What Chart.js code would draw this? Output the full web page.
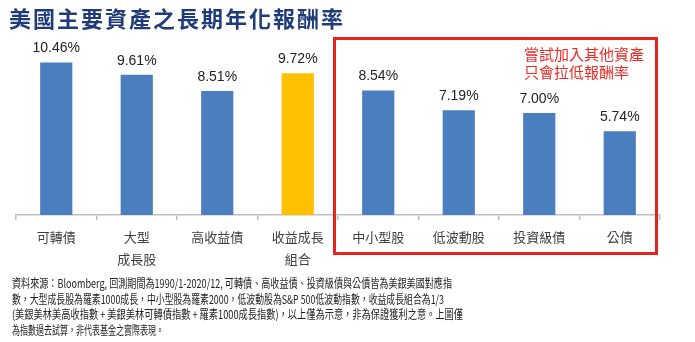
<!DOCTYPE html>
<html><head><meta charset="utf-8">
<script src="https://cdn.jsdelivr.net/npm/chart.js@4/dist/chart.umd.min.js"></script>
<style>
html,body{margin:0;padding:0;background:#fff;width:695px;height:342px;overflow:hidden;position:relative;}
#wrap{position:absolute;left:0;top:0;width:695px;height:280px;}
#title{position:absolute;left:9px;top:4px;font:bold 22px "Noto Sans CJK TC";letter-spacing:2px;color:#1f3b7a;white-space:nowrap;line-height:26px;}
#box{position:absolute;left:333px;top:37px;width:319px;height:212px;border:3px solid #e8231b;}
#note{position:absolute;left:524px;top:45px;font:15px "Noto Sans CJK TC";color:#ee2a24;line-height:18px;white-space:nowrap;}
#foot{position:absolute;left:12px;top:275px;width:680px;font:12px "Noto Sans CJK TC";color:#222;line-height:15.5px;}
#foot div{height:15.5px;white-space:nowrap;}
#foot span{display:inline-block;white-space:nowrap;transform-origin:0 0;}
</style></head>
<body>
<div id="wrap"><canvas id="c" width="695" height="280"></canvas></div>
<div id="title">美國主要資產之長期年化報酬率</div>
<div id="box"></div>
<div id="note">嘗試加入其他資產<br>只會拉低報酬率</div>
<div id="foot"></div>
<script>
const categories = ["可轉債", ["大型","成長股"], "高收益債", ["收益成長","組合"], "中小型股", "低波動股", "投資級債", "公債"];
const returns = [10.46, 9.61, 8.51, 9.72, 8.54, 7.19, 7.00, 5.74];
const barColors = ["#4a7ebf","#4a7ebf","#4a7ebf","#ffc000","#4a7ebf","#4a7ebf","#4a7ebf","#4a7ebf"];
const footLines = [
 "資料來源：Bloomberg, 回測期間為1990/1-2020/12, 可轉債、高收益債、投資級債與公債皆為美銀美國對應指",
 "數，大型成長股為羅素1000成長，中小型股為羅素2000，低波動股為S&P 500低波動指數，收益成長組合為1/3",
 "(美銀美林美高收指數 + 美銀美林可轉債指數 + 羅素1000成長指數)，以上僅為示意，非為保證獲利之意。上圖僅",
 "為指數過去試算，非代表基金之實際表現。"
];
const footWidths = [440, 432, 451, 152];

const foot = document.getElementById('foot');
footLines.forEach((t,i)=>{const d=document.createElement('div');const s=document.createElement('span');
  s.textContent=t;d.appendChild(s);foot.appendChild(d);
  const w=s.getBoundingClientRect().width; s.style.transform='scaleX('+(footWidths[i]/w)+')';});

const valueLabels = {
  id:'valueLabels',
  afterDatasetsDraw(chart){
    const ctx=chart.ctx; const meta=chart.getDatasetMeta(0);
    ctx.save(); ctx.font='14px "Liberation Sans", Arial'; ctx.fillStyle='#222';
    ctx.textAlign='center'; ctx.textBaseline='bottom';
    meta.data.forEach((bar,i)=>{ ctx.fillText(returns[i].toFixed(2)+'%', bar.x, bar.y-7); });
    ctx.restore();
  }
};

new Chart(document.getElementById('c'), {
  type:'bar',
  data:{labels:categories, datasets:[{data:returns, backgroundColor:barColors, categoryPercentage:0.8, barPercentage:0.5}]},
  options:{
    responsive:false, animation:false, devicePixelRatio:1,
    layout:{padding:{left:16,right:35,top:40,bottom:4}},
    plugins:{legend:{display:false}, tooltip:{enabled:false}},
    scales:{
      y:{display:false, min:0, max:12},
      x:{
        grid:{drawOnChartArea:false, drawTicks:true, tickLength:5, color:'#bfbfbf', lineWidth:1.5, offset:true},
        border:{display:true, color:'#bfbfbf', width:1.5},
        ticks:{color:'#404040', font:{family:'"Noto Sans CJK TC"', size:13, lineHeight:'22px'}, padding:6, maxRotation:0, autoSkip:false}
      }
    }
  },
  plugins:[valueLabels]
});
</script>
</body></html>
